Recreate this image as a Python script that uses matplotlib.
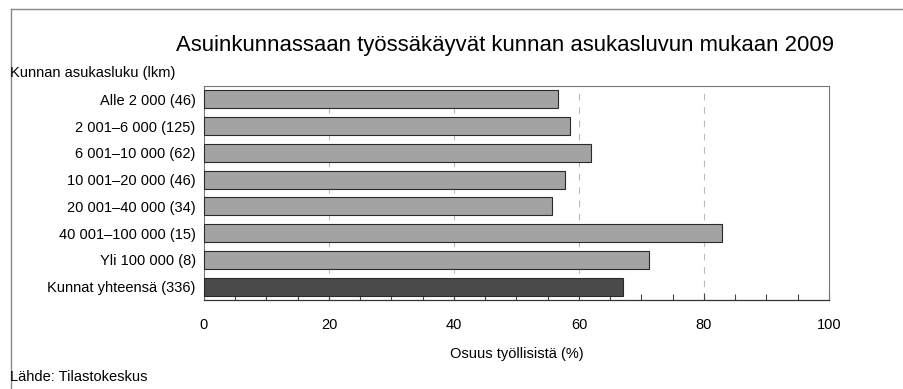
import numpy as np
import matplotlib
matplotlib.use("Agg")
import matplotlib.pyplot as plt
from matplotlib.lines import Line2D

plt.rcParams['font.family'] = ['Liberation Sans', 'DejaVu Sans']

# Data
categories = ["Alle 2 000 (46)", "2 001\u20136 000 (125)", "6 001\u201310 000 (62)",
              "10 001\u201320 000 (46)", "20 001\u201340 000 (34)", "40 001\u2013100 000 (15)",
              "Yli 100 000 (8)", "Kunnat yhteensä (336)"]
values = [56.6, 58.5, 61.9, 57.8, 55.7, 82.9, 71.2, 67.1]
xticks = [0, 20, 40, 60, 80, 100]

title = "Asuinkunnassaan työssäkäyvät kunnan asukasluvun mukaan 2009"
ycap = "Kunnan asukasluku (lkm)"
xcap = "Osuus työllisistä (%)"
source = "Lähde: Tilastokeskus"

W, H = 904, 389
fig = plt.figure(figsize=(W / 100, H / 100), dpi=100)
ax = fig.add_axes([204 / W, 1 - 300 / H, 625 / W, 214 / H])

pos = np.arange(len(categories))
colors = ["#a3a3a3"] * (len(categories) - 1) + ["#4a4a4a"]
ax.barh(pos, values, height=0.68, color=colors, edgecolor="#2a2a2a", linewidth=0.8, zorder=3)

ax.set_ylim(len(categories) - 0.5, -0.5)
ax.set_xlim(0, 100)
ax.set_yticks(pos)
ax.set_yticklabels(categories, fontsize=10.5)
ax.set_xticks(xticks)
ax.set_xticklabels([str(t) for t in xticks], fontsize=10.5)
ax.set_xticks(np.arange(0, 101, 5), minor=True)
ax.tick_params(axis="y", length=0, pad=6)
ax.tick_params(axis="x", which="major", direction="in", length=5, width=0.8, color="#444444", pad=13)
ax.tick_params(axis="x", which="minor", direction="in", length=4, width=0.8, color="#444444")

for g in xticks[1:-1]:
    ax.axvline(g, color="#bbbbbb", linestyle=(0, (6, 6)), linewidth=0.8, zorder=1)

for s in ["top", "right", "left"]:
    ax.spines[s].set_color("#777777")
    ax.spines[s].set_linewidth(0.8)
ax.spines["bottom"].set_color("#333333")
ax.spines["bottom"].set_linewidth(0.9)

ax.set_xlabel(xcap, fontsize=10.5, labelpad=11)

fig.text(505 / W, 1 - 46 / H, title, ha="center", va="center", fontsize=15.9)
fig.text(10 / W, 1 - 73 / H, ycap, ha="left", va="center", fontsize=10.5)
fig.text(10 / W, 1 - 377 / H, source, ha="left", va="center", fontsize=10.5)

# outer frame
fig.add_artist(Line2D([11 / W, 1], [1 - 9 / H, 1 - 9 / H], color="#888888", linewidth=1.0))
fig.add_artist(Line2D([11 / W, 11 / W], [0, 1 - 9 / H], color="#888888", linewidth=1.0))

fig.savefig("out.png", dpi=100)
